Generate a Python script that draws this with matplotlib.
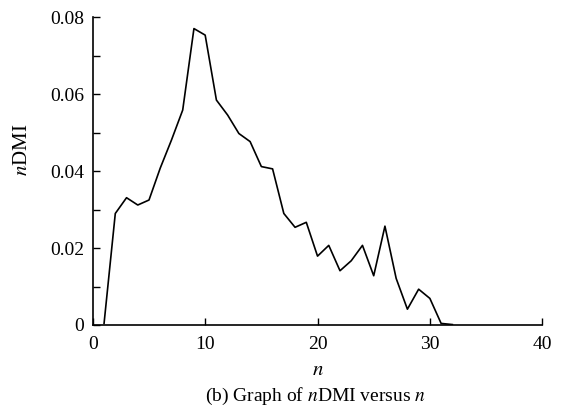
import matplotlib.pyplot as plt
from matplotlib.ticker import MultipleLocator

plt.rcParams["font.family"] = ["Liberation Serif", "DejaVu Serif"]
plt.rcParams["mathtext.fontset"] = "stix"

# n values and nDMI
n_values = [1, 2, 3, 4, 5, 6, 7, 8, 9, 10, 11, 12, 13, 14, 15, 16, 17, 18,
            19, 20, 21, 22, 23, 24, 25, 26, 27, 28, 29, 30, 31, 32]
ndmi = [0.0004, 0.0290, 0.0331, 0.0312, 0.0325, 0.0408, 0.0481, 0.0559,
        0.0771, 0.0754, 0.0585, 0.0546, 0.0498, 0.0477, 0.0412, 0.0406,
        0.0290, 0.0254, 0.0267, 0.0179, 0.0207, 0.0141, 0.0167, 0.0207,
        0.0128, 0.0257, 0.0121, 0.0041, 0.0093, 0.0069, 0.0004, 0.0001]

x_ticks = [0, 10, 20, 30, 40]
y_ticks = [0, 0.02, 0.04, 0.06, 0.08]
y_tick_labels = ["0", "0.02", "0.04", "0.06", "0.08"]

fig = plt.figure(figsize=(5.66, 4.15), dpi=100)
ax = fig.add_axes([0.164, 0.217, 0.794, 0.741])

ax.plot(n_values, ndmi, color="black", linewidth=1.2)

ax.set_xlim(0, 40)
ax.set_ylim(0, 0.08)
ax.set_xticks(x_ticks)
ax.set_xticklabels([str(t) for t in x_ticks])
ax.set_yticks(y_ticks)
ax.set_yticklabels(y_tick_labels)
ax.yaxis.set_minor_locator(MultipleLocator(0.01))

ax.spines["top"].set_visible(False)
ax.spines["right"].set_visible(False)
ax.spines["left"].set_linewidth(1.2)
ax.spines["bottom"].set_linewidth(1.2)
ax.tick_params(which="both", direction="in", width=1.0, labelsize=14)
ax.tick_params(which="both", length=5)
ax.tick_params(axis="x", pad=8)
ax.tick_params(axis="y", pad=6)

ax.set_xlabel("$n$", fontsize=15, labelpad=6)
ax.set_ylabel("$n$DMI", fontsize=15, labelpad=13, y=0.57)

fig.text(0.558, 0.045, "(b) Graph of $n$DMI versus $n$", ha="center", va="center",
         fontsize=14)

fig.savefig("out.png", dpi=100)
